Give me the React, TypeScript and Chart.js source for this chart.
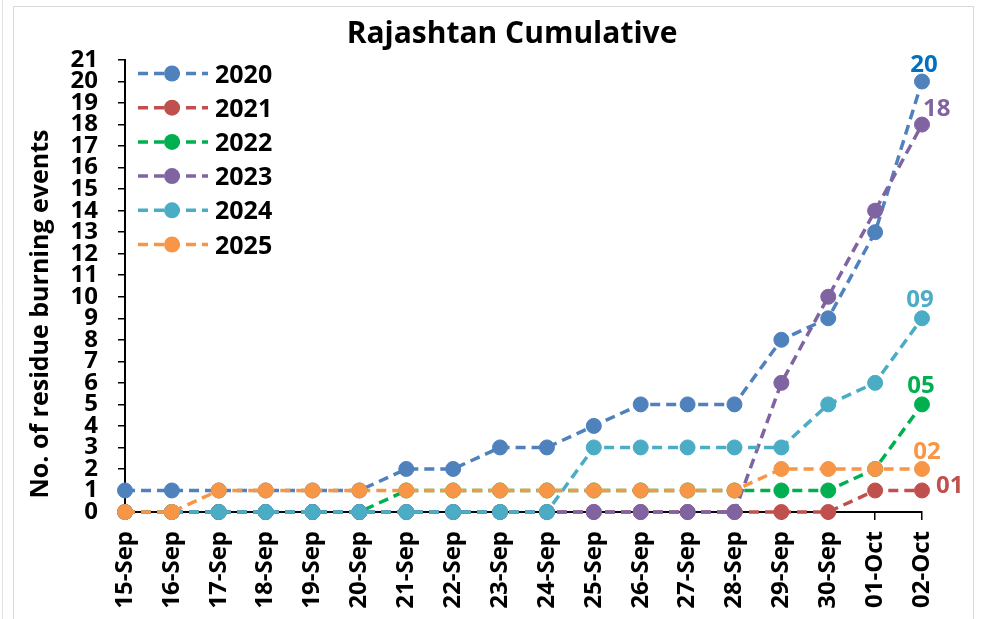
import React, { useEffect, useRef } from 'react';
import { Chart, registerables } from 'chart.js';

Chart.register(...registerables);

const categories = [
  '15-Sep', '16-Sep', '17-Sep', '18-Sep', '19-Sep', '20-Sep', '21-Sep', '22-Sep', '23-Sep',
  '24-Sep', '25-Sep', '26-Sep', '27-Sep', '28-Sep', '29-Sep', '30-Sep', '01-Oct', '02-Oct',
];

const seriesNames = ['2020', '2021', '2022', '2023', '2024', '2025'];
const values2020 = [1, 1, 1, 1, 1, 1, 2, 2, 3, 3, 4, 5, 5, 5, 8, 9, 13, 20];
const values2021 = [0, 0, 0, 0, 0, 0, 0, 0, 0, 0, 0, 0, 0, 0, 0, 0, 1, 1];
const values2022 = [0, 0, 0, 0, 0, 0, 1, 1, 1, 1, 1, 1, 1, 1, 1, 1, 2, 5];
const values2023 = [0, 0, 0, 0, 0, 0, 0, 0, 0, 0, 0, 0, 0, 0, 6, 10, 14, 18];
const values2024 = [0, 0, 0, 0, 0, 0, 0, 0, 0, 0, 3, 3, 3, 3, 3, 5, 6, 9];
const values2025 = [0, 0, 1, 1, 1, 1, 1, 1, 1, 1, 1, 1, 1, 1, 2, 2, 2, 2];
const yTickMin = 0;
const yTickMax = 21;
const yTickStep = 1;

const chartTitle = 'Rajashtan Cumulative';
const yAxisTitle = 'No. of residue burning events';

const allValues = [values2020, values2021, values2022, values2023, values2024, values2025];
const lineColors = ['#4F81BD', '#C0504D', '#00B050', '#8064A2', '#4BACC6', '#F79646'];
const labelColors = ['#0070C0', '#C0504D', '#00B050', '#8064A2', '#4BACC6', '#F79646'];
// end label placement: [dx, dy, align]
const labelPlacement: [number, number, CanvasTextAlign][] = [
  [2, -10, 'center'],
  [14, 3, 'left'],
  [-1, -11, 'center'],
  [1, -9, 'left'],
  [-2, -11, 'center'],
  [5, -10, 'center'],
];

const FONT = "'Open Sans', sans-serif";

const overlayPlugin = {
  id: 'overlay',
  beforeDraw(chart: any) {
    const ctx = chart.ctx as CanvasRenderingContext2D;
    ctx.save();
    ctx.fillStyle = '#ffffff';
    ctx.fillRect(0, 0, chart.width, chart.height);
    ctx.strokeStyle = '#d9d9d9';
    ctx.lineWidth = 1;
    ctx.strokeRect(13.5, 6.5, 960, 640);
    ctx.strokeStyle = '#e3e3e3';
    ctx.beginPath();
    ctx.moveTo(2.5, 0);
    ctx.lineTo(2.5, chart.height);
    ctx.stroke();
    ctx.restore();
  },
  afterDraw(chart: any) {
    const ctx = chart.ctx as CanvasRenderingContext2D;
    ctx.save();
    // title
    ctx.fillStyle = '#000';
    ctx.font = `bold 30px ${FONT}`;
    ctx.textAlign = 'center';
    ctx.textBaseline = 'alphabetic';
    ctx.fillText(chartTitle, 512, 43);

    // y axis title
    ctx.save();
    ctx.translate(48, 314);
    ctx.rotate(-Math.PI / 2);
    ctx.font = `bold 25px ${FONT}`;
    ctx.textAlign = 'center';
    ctx.textBaseline = 'alphabetic';
    ctx.fillText(yAxisTitle, 0, 0);
    ctx.restore();

    // legend
    for (let i = 0; i < seriesNames.length; i++) {
      const y = 73.5 + i * 34.2;
      ctx.strokeStyle = lineColors[i];
      ctx.lineWidth = 3.5;
      ctx.setLineDash([10, 6]);
      ctx.beginPath();
      ctx.moveTo(138, y);
      ctx.lineTo(208, y);
      ctx.stroke();
      ctx.setLineDash([]);
      ctx.fillStyle = lineColors[i];
      ctx.beginPath();
      ctx.arc(172, y, 8, 0, Math.PI * 2);
      ctx.fill();
      ctx.fillStyle = '#000';
      ctx.font = `bold 25px ${FONT}`;
      ctx.textAlign = 'left';
      ctx.textBaseline = 'alphabetic';
      ctx.fillText(seriesNames[i], 215, y + 9);
    }

    // end labels
    ctx.font = `bold 24px ${FONT}`;
    ctx.textBaseline = 'alphabetic';
    for (let i = 0; i < allValues.length; i++) {
      const meta = chart.getDatasetMeta(i);
      const last = meta.data[meta.data.length - 1];
      const v = allValues[i][allValues[i].length - 1];
      const [dx, dy, align] = labelPlacement[i];
      ctx.fillStyle = labelColors[i];
      ctx.textAlign = align;
      ctx.fillText(String(v).padStart(2, '0'), last.x + dx, last.y + dy);
    }
    ctx.restore();
  },
};

export default function App() {
  const canvasRef = useRef<HTMLCanvasElement | null>(null);

  useEffect(() => {
    document.body.style.margin = '0';
    const canvas = canvasRef.current;
    if (!canvas) return;
    const datasets = seriesNames.map((name, i) => ({
      label: name,
      data: allValues[i],
      borderColor: lineColors[i],
      backgroundColor: lineColors[i],
      pointBackgroundColor: lineColors[i],
      pointBorderColor: lineColors[i],
      pointBorderWidth: 1,
      pointRadius: 7.5,
      borderWidth: 3.5,
      borderDash: [10, 6],
      tension: 0,
      fill: false,
      clip: false as const,
      order: seriesNames.length - i,
    }));

    const chart = new Chart(canvas, {
      type: 'line',
      data: { labels: categories, datasets },
      options: {
        responsive: false,
        animation: false,
        devicePixelRatio: 1,
        layout: { padding: { top: 60, right: 60, left: 0, bottom: 0 } },
        plugins: {
          legend: { display: false },
          title: { display: false },
          tooltip: { enabled: false },
        },
        scales: {
          x: {
            type: 'category',
            offset: false,
            grid: {
              display: true,
              drawOnChartArea: false,
              drawTicks: true,
              tickLength: 8,
              color: '#000',
              lineWidth: 1.5,
            },
            border: { display: true, color: '#000', width: 2 },
            ticks: {
              autoSkip: false,
              minRotation: 90,
              maxRotation: 90,
              padding: 11,
              color: '#000',
              font: { family: FONT, size: 24, weight: 'bold' },
            },
            afterFit(scale: any) {
              scale.height = 107;
              scale.paddingLeft = 0;
              scale.paddingRight = 0;
            },
          },
          y: {
            type: 'linear',
            min: yTickMin,
            max: yTickMax,
            grid: {
              display: true,
              drawOnChartArea: false,
              drawTicks: true,
              tickLength: 7,
              color: '#000',
              lineWidth: 1.5,
            },
            border: { display: true, color: '#000', width: 2 },
            ticks: {
              stepSize: yTickStep,
              autoSkip: false,
              padding: 20,
              color: '#000',
              font: { family: FONT, size: 24, weight: 'bold' },
            },
            afterFit(scale: any) {
              scale.width = 125;
              scale.paddingTop = 0;
              scale.paddingBottom = 0;
            },
          },
        },
      },
      plugins: [overlayPlugin],
    });
    return () => chart.destroy();
  }, []);

  return (
    <div style={{ position: 'absolute', left: 0, top: 0, width: 982, height: 619 }}>
      <canvas ref={canvasRef} width={982} height={619} style={{ display: 'block' }} />
    </div>
  );
}
